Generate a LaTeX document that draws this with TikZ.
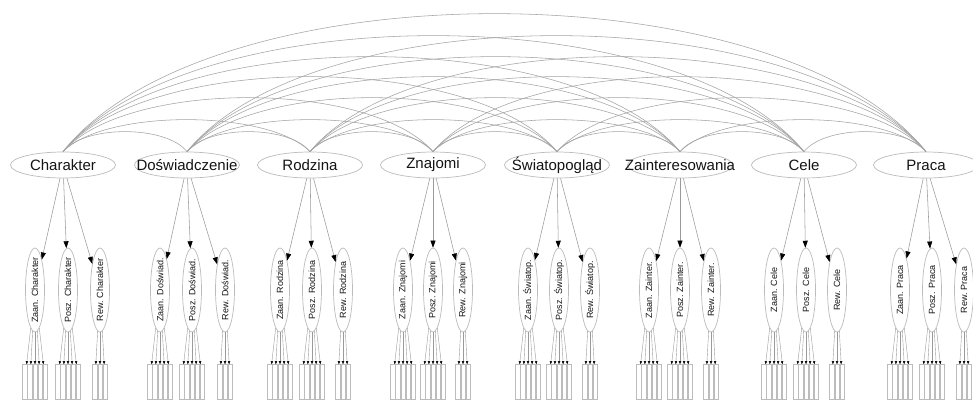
\documentclass[tikz,border=0pt]{standalone}
\usepackage{fontspec}
\setmainfont{Liberation Sans}
\usetikzlibrary{shapes.geometric,arrows.meta}
\definecolor{edgegray}{HTML}{A4A4A4}
\definecolor{linegray}{HTML}{BCBCBC}
\definecolor{downgray}{HTML}{9A9A9A}
\begin{document}
\begin{tikzpicture}[x=1pt,y=-1pt,
  top/.style={ellipse, draw=linegray, line width=0.7pt, minimum width=105pt, minimum height=26pt, inner sep=0pt, font=\fontsize{15}{16}\selectfont, text=black!92},
  sub/.style={ellipse, draw=linegray, line width=0.7pt, minimum width=19pt, minimum height=84pt, inner sep=0pt, font=\fontsize{9}{10}\selectfont, text=black!92},
  leaf/.style={rectangle, draw=linegray, line width=0.6pt, minimum width=4.4pt, minimum height=35pt, inner sep=0pt},
  arcedge/.style={draw=edgegray, line width=0.55pt},
  down/.style={draw=downgray, line width=0.55pt, -{Triangle[length=7pt,width=5pt,color=black]}},
  fan/.style={draw=downgray, line width=0.4pt, -{Triangle[length=3pt,width=2.4pt,color=black]}}
]
\clip (0,0) rectangle (973,400);
\fill[white] (0,0) rectangle (973,400);

% parents
\foreach \nm/\x/\lab in {p0/63/Charakter, p1/187/Doświadczenie, p2/310/Rodzina, p3/433/Znajomi, p4/557/Światopogląd, p5/680/Zainteresowania, p6/804/Cele, p7/926/Praca}
  \node[top] (\nm) at (\x,165) {\makebox[0pt]{\lab}};

% arcs between all parents
\foreach \i in {0,...,6} {
  \pgfmathtruncatemacro{\s}{\i+1}
  \foreach \j in {\s,...,7} {
    \pgfmathtruncatemacro{\dist}{\j-\i}
    \pgfmathsetmacro{\ctl}{{26.7,42.7,72,100,126.7,154.7,184}[\dist-1]}
    \pgfmathsetmacro{\off}{0.17*123.3*\dist}
    \draw[arcedge] (p\i.north) .. controls +(\off,-\ctl) and +(-\off,-\ctl) .. (p\j.north);
  }
}

% children and leaves
\foreach \i/\sh/\xa/\xb/\xc in {0/Charakter/35/68/100, 1/Doświad./160/192/225, 2/Rodzina/280/312/343, 3/Znajomi/403/433/463, 4/Światop./528/559/590, 5/Zainter./649/680/711, 6/Cele/774/806/837, 7/Praca/900/932/964} {
  \node[sub] (za\i) at (\xa,290) {\rotatebox{90}{\makebox[0pt]{Zaan. \sh}}};
  \node[sub] (po\i) at (\xb,290) {\rotatebox{90}{\makebox[0pt]{Posz. \sh}}};
  \node[sub] (re\i) at (\xc,290) {\rotatebox{90}{\makebox[0pt]{Rew. \sh}}};
  \draw[down] (p\i) -- (za\i);
  \draw[down] (p\i) -- (po\i);
  \draw[down] (p\i) -- (re\i);
  \foreach \k in {1,...,5} {
    \node[leaf] (za\i l\k) at ({\xa+(\k-3)*5.2},382) {};
    \draw[fan] (za\i) -- (za\i l\k);
    \node[leaf] (po\i l\k) at ({\xb+(\k-3)*5.2},382) {};
    \draw[fan] (po\i) -- (po\i l\k);
  }
  \foreach \k in {1,...,3} {
    \node[leaf] (re\i l\k) at ({\xc+(\k-2)*5.2},382) {};
    \draw[fan] (re\i) -- (re\i l\k);
  }
}
\end{tikzpicture}
\end{document}
